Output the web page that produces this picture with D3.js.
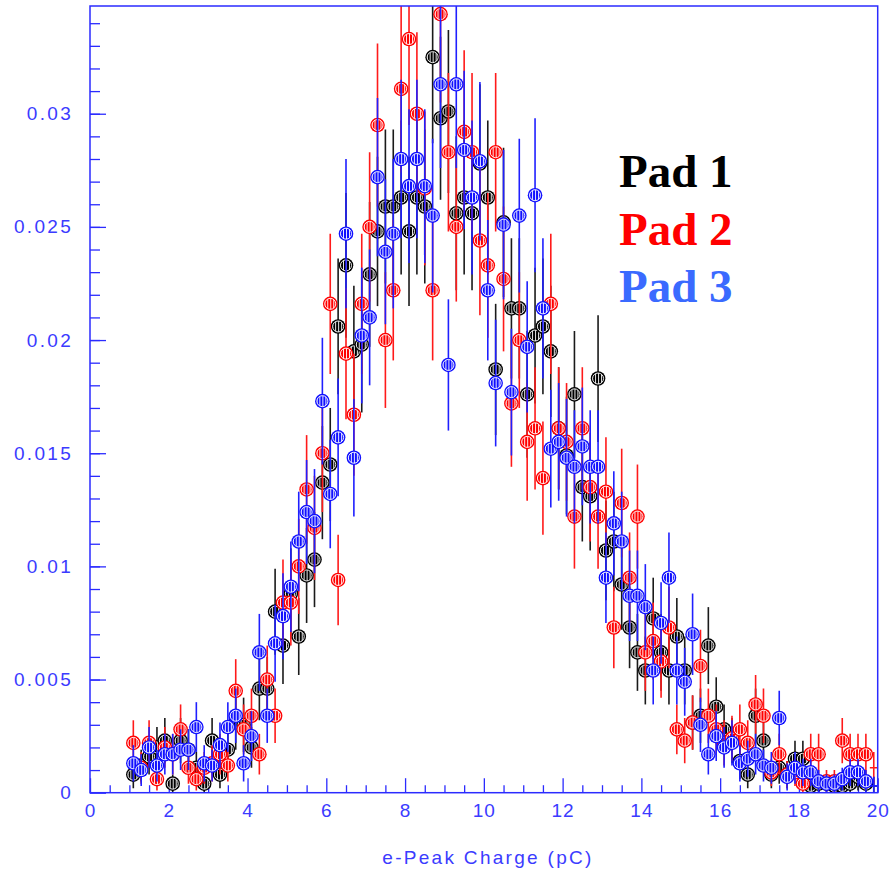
<!DOCTYPE html>
<html><head><meta charset="utf-8">
<script src="https://cdn.jsdelivr.net/npm/d3@7"></script>
<style>body{margin:0;background:#fff}svg{display:block}</style>
</head><body><svg id="c" width="890" height="873"></svg>
<script>
// ---- data ----
const bins = [
1.1,1.3,1.5,1.7,1.9,2.1,2.3,2.5,2.7,2.9,
3.1,3.3,3.5,3.7,3.9,4.1,4.3,4.5,4.7,4.9,
5.1,5.3,5.5,5.7,5.9,6.1,6.3,6.5,6.7,6.9,
7.1,7.3,7.5,7.7,7.9,8.1,8.3,8.5,8.7,8.9,
9.1,9.3,9.5,9.7,9.9,10.1,10.3,10.5,10.7,10.9,
11.1,11.3,11.5,11.7,11.9,12.1,12.3,12.5,12.7,12.9,
13.1,13.3,13.5,13.7,13.9,14.1,14.3,14.5,14.7,14.9,
15.1,15.3,15.5,15.7,15.9,16.1,16.3,16.5,16.7,16.9,
17.1,17.3,17.5,17.7,17.9,18.1,18.3,18.5,18.7,18.9,
19.1,19.3,19.5,19.7,19.9];

const pad1 = [
0.0008,0.0012,0.0016,0.0020,0.0023,0.0004,0.0023,0.0019,0.0011,0.0004,
0.0023,0.0008,0.0019,0.0031,0.0030,0.0020,0.0046,0.0046,0.0080,0.0065,
0.0088,0.0069,0.0096,0.0103,0.0137,0.0145,0.0206,0.0233,0.0195,0.0198,
0.0229,0.0248,0.0259,0.0259,0.0263,0.0248,0.0263,0.0259,0.0325,0.0298,
0.0301,0.0256,0.0263,0.0256,0.0278,0.0263,0.0187,0.0252,0.0214,0.0214,
0.0176,0.0202,0.0206,0.0195,0.0161,0.0149,0.0176,0.0135,0.0131,0.0183,
0.0107,0.0111,0.0092,0.0073,0.0062,0.0054,0.0077,0.0062,0.0054,0.0069,
0.0054,0.0031,0.0034,0.0065,0.0038,0.0028,0.0023,0.0014,0.0008,0.0034,
0.0023,0.0008,0.0011,0.0008,0.0015,0.0015,0.0003,0.0004,0.0004,0.0003,
0.0003,0.0004,0.0007,0.0004,0.0003];
const pad1Err = [
0.0006,0.0007,0.0008,0.0009,0.0010,0.0004,0.0010,0.0009,0.0007,0.0004,
0.0010,0.0006,0.0009,0.0012,0.0012,0.0009,0.0014,0.0014,0.0019,0.0017,
0.0020,0.0017,0.0021,0.0021,0.0025,0.0025,0.0030,0.0032,0.0029,0.0030,
0.0032,0.0033,0.0034,0.0034,0.0034,0.0033,0.0034,0.0034,0.0038,0.0036,
0.0036,0.0034,0.0034,0.0034,0.0035,0.0034,0.0029,0.0033,0.0031,0.0031,
0.0028,0.0030,0.0030,0.0029,0.0027,0.0026,0.0028,0.0024,0.0024,0.0028,
0.0022,0.0022,0.0020,0.0018,0.0017,0.0015,0.0018,0.0017,0.0015,0.0017,
0.0015,0.0012,0.0012,0.0017,0.0013,0.0011,0.0010,0.0008,0.0006,0.0012,
0.0010,0.0006,0.0007,0.0006,0.0008,0.0008,0.0004,0.0004,0.0004,0.0004,
0.0004,0.0004,0.0006,0.0004,0.0004];

const pad2 = [
0.0022,0.0011,0.0022,0.0006,0.0020,0.0017,0.0028,0.0011,0.0006,0.0011,
0.0013,0.0017,0.0012,0.0045,0.0028,0.0034,0.0017,0.0050,0.0034,0.0084,
0.0084,0.0100,0.0134,0.0117,0.0150,0.0216,0.0094,0.0194,0.0167,0.0216,
0.0250,0.0295,0.0200,0.0222,0.0311,0.0333,0.0300,0.0267,0.0222,0.0344,
0.0283,0.0250,0.0292,0.0283,0.0244,0.0233,0.0283,0.0227,0.0172,0.0200,
0.0155,0.0161,0.0139,0.0216,0.0161,0.0155,0.0122,0.0161,0.0135,0.0122,
0.0133,0.0073,0.0128,0.0095,0.0122,0.0062,0.0067,0.0058,0.0073,0.0028,
0.0023,0.0031,0.0056,0.0034,0.0028,0.0022,0.0024,0.0028,0.0022,0.0039,
0.0034,0.0009,0.0017,0.0008,0.0009,0.0004,0.0017,0.0017,0.0005,0.0005,
0.0023,0.0017,0.0017,0.0017,0.0011];
const pad2Err = [
0.0010,0.0007,0.0010,0.0005,0.0009,0.0009,0.0011,0.0007,0.0005,0.0007,
0.0008,0.0009,0.0007,0.0014,0.0011,0.0012,0.0009,0.0015,0.0012,0.0019,
0.0019,0.0021,0.0024,0.0023,0.0026,0.0031,0.0020,0.0029,0.0027,0.0031,
0.0033,0.0036,0.0030,0.0031,0.0037,0.0038,0.0036,0.0034,0.0031,0.0039,
0.0035,0.0033,0.0036,0.0035,0.0033,0.0032,0.0035,0.0032,0.0028,0.0030,
0.0026,0.0027,0.0025,0.0031,0.0027,0.0026,0.0023,0.0027,0.0024,0.0023,
0.0024,0.0018,0.0024,0.0020,0.0023,0.0017,0.0017,0.0016,0.0018,0.0011,
0.0010,0.0012,0.0016,0.0012,0.0011,0.0010,0.0010,0.0011,0.0010,0.0013,
0.0012,0.0006,0.0009,0.0006,0.0006,0.0004,0.0009,0.0009,0.0005,0.0005,
0.0010,0.0009,0.0009,0.0009,0.0007];

const pad3 = [
0.0013,0.0010,0.0020,0.0012,0.0017,0.0017,0.0019,0.0019,0.0029,0.0013,
0.0012,0.0021,0.0029,0.0034,0.0013,0.0025,0.0062,0.0034,0.0066,0.0078,
0.0091,0.0111,0.0124,0.0120,0.0173,0.0132,0.0157,0.0247,0.0148,0.0202,
0.0210,0.0272,0.0239,0.0247,0.0280,0.0268,0.0280,0.0268,0.0255,0.0313,
0.0189,0.0313,0.0284,0.0263,0.0279,0.0222,0.0181,0.0251,0.0177,0.0255,
0.0197,0.0264,0.0214,0.0152,0.0155,0.0148,0.0144,0.0153,0.0144,0.0144,
0.0095,0.0119,0.0111,0.0087,0.0087,0.0082,0.0054,0.0075,0.0095,0.0054,
0.0049,0.0070,0.0030,0.0017,0.0025,0.0020,0.0022,0.0013,0.0015,0.0017,
0.0012,0.0011,0.0033,0.0007,0.0011,0.0009,0.0009,0.0005,0.0004,0.0004,
0.0006,0.0009,0.0009,0.0005,0.0003];
const pad3Err = [
0.0008,0.0007,0.0009,0.0007,0.0009,0.0009,0.0009,0.0009,0.0011,0.0008,
0.0007,0.0010,0.0011,0.0012,0.0008,0.0011,0.0017,0.0012,0.0017,0.0019,
0.0020,0.0022,0.0023,0.0023,0.0028,0.0024,0.0026,0.0033,0.0026,0.0030,
0.0030,0.0035,0.0032,0.0033,0.0035,0.0034,0.0035,0.0034,0.0034,0.0037,
0.0029,0.0037,0.0035,0.0034,0.0035,0.0031,0.0028,0.0033,0.0028,0.0034,
0.0029,0.0034,0.0031,0.0026,0.0026,0.0026,0.0025,0.0026,0.0025,0.0025,
0.0020,0.0023,0.0022,0.0020,0.0020,0.0019,0.0015,0.0018,0.0020,0.0015,
0.0015,0.0018,0.0012,0.0009,0.0011,0.0009,0.0010,0.0008,0.0008,0.0009,
0.0007,0.0007,0.0012,0.0006,0.0007,0.0006,0.0006,0.0005,0.0004,0.0004,
0.0005,0.0006,0.0006,0.0005,0.0004];

const seriesNames = ["Pad 1", "Pad 2", "Pad 3"];
const xTickValues = [0,2,4,6,8,10,12,14,16,18,20];
const xTickLabels = ["0","2","4","6","8","10","12","14","16","18","20"];
const yTickValues = [0,0.005,0.01,0.015,0.02,0.025,0.03];
const yTickLabels = ["0","0.005","0.01","0.015","0.02","0.025","0.03"];
const xTitle = "e-Peak Charge (pC)";
const binHalfWidth = 0.1;

// ---- drawing ----
const axisBlue = "#2b2bff";
const textBlue = "#3b3bff";
const svg = d3.select("#c");
const L = 90, R = 877.7, T = 6, B = 792.7;
const x = d3.scaleLinear().domain([0, 20]).range([L, R]);
const y = d3.scaleLinear().domain([0, 0.03476]).range([B, T]);

const defs = svg.append("defs");
defs.append("clipPath").attr("id", "plotClip")
  .append("rect").attr("x", L).attr("y", T).attr("width", R - L).attr("height", B - T);

const seriesDefs = [
  {name: seriesNames[0], vals: pad1, err: pad1Err, color: "#000000", bar: "#1a1a1a", legend: "#000000", id: "s1"},
  {name: seriesNames[1], vals: pad2, err: pad2Err, color: "#ff0000", bar: "#ff1a1a", legend: "#ff0000", id: "s2"},
  {name: seriesNames[2], vals: pad3, err: pad3Err, color: "#1010ff", bar: "#1f1fff", legend: "#3a6aff", id: "s3"}
];
seriesDefs.forEach(s => {
  const p = defs.append("pattern").attr("id", "pat-" + s.id)
    .attr("patternUnits", "userSpaceOnUse").attr("width", 3).attr("height", 4);
  p.append("rect").attr("width", 3).attr("height", 4).attr("fill", s.color);
  p.append("rect").attr("x", 0).attr("width", 0.9).attr("height", 4).attr("fill", "#fff");
});

const fontFam = "'Liberation Sans', Arial, sans-serif";

// axes ticks
const gy = svg.append("g").attr("transform", `translate(${L},0)`);
gy.call(d3.axisLeft(y).tickValues(d3.range(0.001, 0.0346, 0.001)).tickSize(-10).tickFormat(""))
  .call(g => g.select(".domain").remove())
  .call(g => g.selectAll("line").attr("stroke", axisBlue).attr("stroke-width", 1.3));
const gyM = svg.append("g").attr("transform", `translate(${L},0)`);
gyM.call(d3.axisLeft(y).tickValues(yTickValues).tickSize(-16).tickPadding(17)
    .tickFormat((d, i) => yTickLabels[i]))
  .call(g => g.select(".domain").remove())
  .call(g => g.selectAll("line").attr("stroke", axisBlue).attr("stroke-width", 1.3))
  .call(g => g.selectAll("text").attr("fill", textBlue)
      .style("font-family", fontFam)
      .style("font-size", "19px").style("letter-spacing", "2.3px"));

const gx = svg.append("g").attr("transform", `translate(0,${B})`);
gx.call(d3.axisBottom(x).tickValues(d3.range(0.5, 20, 0.5).filter(v => v % 2 !== 0)).tickSize(-7.5).tickFormat(""))
  .call(g => g.select(".domain").remove())
  .call(g => g.selectAll("line").attr("stroke", axisBlue).attr("stroke-width", 1.3));
const gxM = svg.append("g").attr("transform", `translate(0,${B})`);
gxM.call(d3.axisBottom(x).tickValues(xTickValues).tickSize(-14.5).tickPadding(11)
    .tickFormat((d, i) => xTickLabels[i]))
  .call(g => g.select(".domain").remove())
  .call(g => g.selectAll("line").attr("stroke", axisBlue).attr("stroke-width", 1.3))
  .call(g => g.selectAll("text").attr("fill", textBlue)
      .style("font-family", fontFam)
      .style("font-size", "19px").style("letter-spacing", "1px"));

// data
const plot = svg.append("g").attr("clip-path", "url(#plotClip)");
const lastBin = bins[bins.length - 1];
seriesDefs.forEach(s => {
  const g = plot.append("g");
  const pts = bins.map((b, i) => ({b, v: s.vals[i], e: s.err[i]}));
  g.selectAll("line.err").data(pts).join("line").attr("class", "err")
    .attr("x1", d => x(d.b)).attr("x2", d => x(d.b))
    .attr("y1", d => y(d.v + d.e)).attr("y2", d => y(Math.max(0, d.v - d.e)))
    .attr("stroke", s.bar).attr("stroke-width", 1.6);
  // edge bin: shown as cross (marker would overflow frame)
  g.selectAll("line.xerr").data(pts.filter(d => d.b === lastBin)).join("line").attr("class", "xerr")
    .attr("x1", d => x(d.b - binHalfWidth)).attr("x2", d => x(d.b + binHalfWidth))
    .attr("y1", d => y(d.v)).attr("y2", d => y(d.v))
    .attr("stroke", s.bar).attr("stroke-width", 1.6);
  const m = g.selectAll("g.m").data(pts.filter(d => d.b !== lastBin)).join("g").attr("class", "m")
    .attr("transform", d => `translate(${x(d.b)},${y(d.v)})`);
  m.append("circle").attr("r", 7.3).attr("fill", s.color);
  m.append("circle").attr("r", 5.5).attr("fill", `url(#pat-${s.id})`)
    .attr("stroke", "#fff").attr("stroke-width", 0.9);
});

// frame
svg.append("rect").attr("x", L).attr("y", T).attr("width", R - L).attr("height", B - T)
  .attr("fill", "none").attr("stroke", axisBlue).attr("stroke-width", 1.5);

// x title
svg.append("text").attr("x", 488).attr("y", 864).attr("text-anchor", "middle")
  .attr("fill", textBlue).style("font-family", fontFam)
  .style("font-size", "19px").style("letter-spacing", "2.3px").text(xTitle);

// legend
seriesDefs.forEach((s, i) => {
  svg.append("text").attr("x", 619).attr("y", 187 + i * 57.5)
    .attr("fill", s.legend)
    .style("font-family", "'Liberation Serif', 'Times New Roman', serif")
    .style("font-weight", "bold").style("font-size", "47px")
    .text(s.name);
});
</script></body></html>
